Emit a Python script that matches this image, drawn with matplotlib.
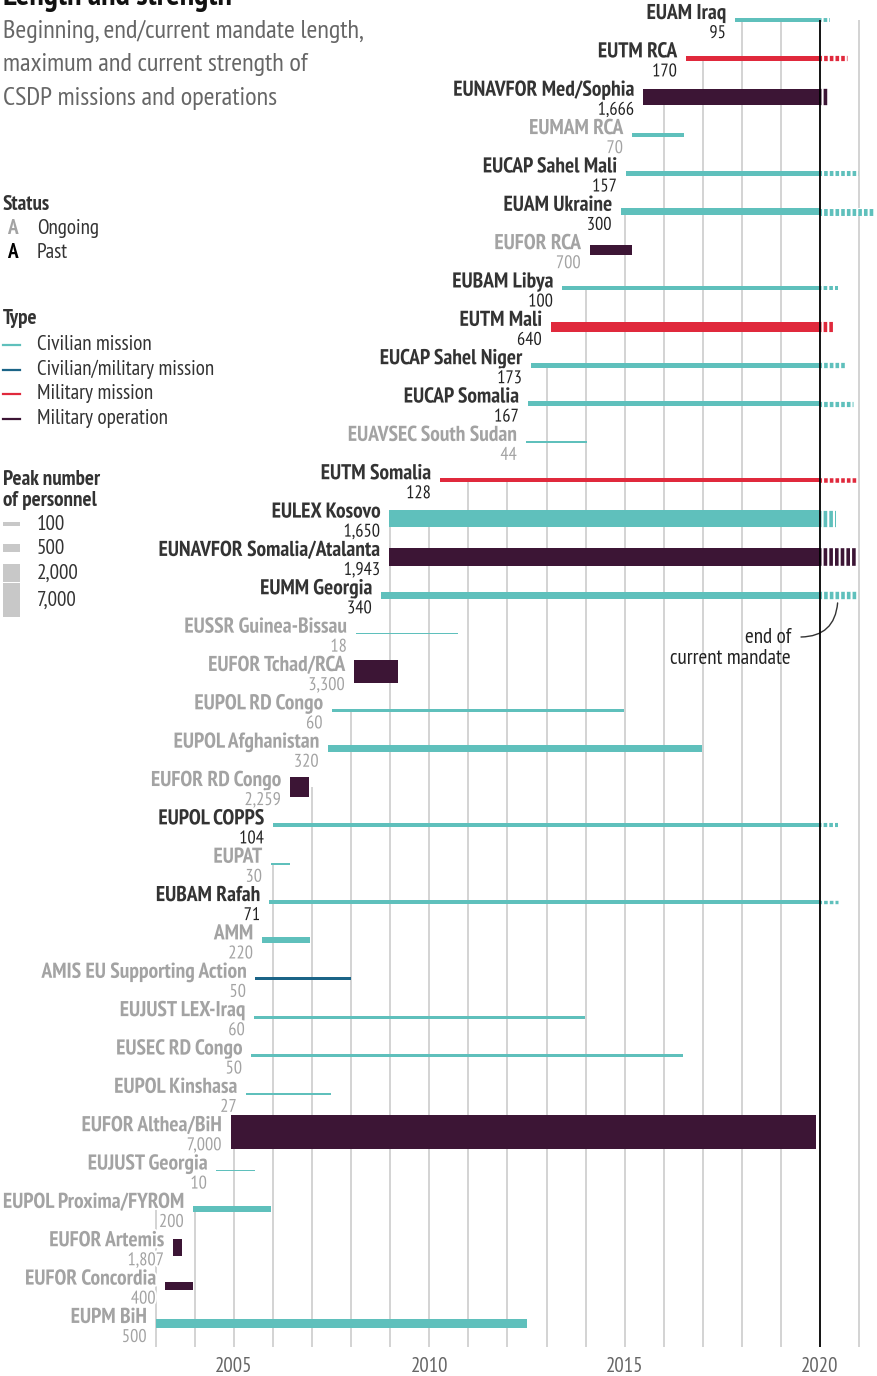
import numpy as np
import matplotlib
matplotlib.use("Agg")
import matplotlib.pyplot as plt
import matplotlib.patheffects as pe
from matplotlib import font_manager as fm
from matplotlib.lines import Line2D
from matplotlib.patches import Rectangle

# pick a narrow sans if one is there
available = {f.name for f in fm.fontManager.ttflist}
FONT = "DejaVu Sans"
for cand in ["PT Sans Narrow", "Roboto Condensed", "Liberation Sans Narrow"]:
    if cand in available:
        FONT = cand
        break
plt.rcParams["font.family"] = [FONT, "DejaVu Sans"]
plt.rcParams["lines.scale_dashes"] = False

# ---- data (top to bottom) ----
names = ["EUAM Iraq", "EUTM RCA", "EUNAVFOR Med/Sophia", "EUMAM RCA", "EUCAP Sahel Mali",
         "EUAM Ukraine", "EUFOR RCA", "EUBAM Libya", "EUTM Mali", "EUCAP Sahel Niger",
         "EUCAP Somalia", "EUAVSEC South Sudan", "EUTM Somalia", "EULEX Kosovo",
         "EUNAVFOR Somalia/Atalanta", "EUMM Georgia", "EUSSR Guinea-Bissau", "EUFOR Tchad/RCA",
         "EUPOL RD Congo", "EUPOL Afghanistan", "EUFOR RD Congo", "EUPOL COPPS", "EUPAT",
         "EUBAM Rafah", "AMM", "AMIS EU Supporting Action", "EUJUST LEX-Iraq", "EUSEC RD Congo",
         "EUPOL Kinshasa", "EUFOR Althea/BiH", "EUJUST Georgia", "EUPOL Proxima/FYROM",
         "EUFOR Artemis", "EUFOR Concordia", "EUPM BiH"]
personnel = [95, 170, 1666, 70, 157, 300, 700, 100, 640, 173, 167, 44, 128, 1650, 1943, 340,
             18, 3300, 60, 320, 2259, 104, 30, 71, 220, 50, 60, 50, 27, 7000, 10, 200, 1807,
             400, 500]
starts = [2017.82, 2016.57, 2015.47, 2015.19, 2015.03, 2014.90, 2014.11, 2013.40, 2013.11,
          2012.60, 2012.52, 2012.47, 2010.27, 2008.97, 2008.97, 2008.76, 2008.12, 2008.07,
          2007.50, 2007.40, 2006.43, 2006.00, 2005.95, 2005.90, 2005.72, 2005.54, 2005.51,
          2005.44, 2005.30, 2004.92, 2004.54, 2003.95, 2003.44, 2003.23, 2003.00]
ends = [2020.0, 2020.0, 2020.0, 2016.52, 2020.0, 2020.0, 2015.19, 2020.0, 2020.0, 2020.0,
        2020.0, 2014.03, 2020.0, 2020.0, 2020.0, 2020.0, 2010.73, 2009.20, 2014.98, 2016.98,
        2006.92, 2020.0, 2006.43, 2020.0, 2006.95, 2008.00, 2013.98, 2016.49, 2007.48,
        2019.90, 2005.54, 2005.95, 2003.67, 2003.95, 2012.50]
mandate_end = [2020.25, 2020.69, 2020.23, None, 2020.97, 2021.35, None, 2020.46, 2020.36,
               2020.66, 2020.84, None, 2020.95, 2020.41, 2020.95, 2020.95, None, None, None,
               None, None, 2020.46, None, 2020.46, None, None, None, None, None, None, None,
               None, None, None, None]
kinds = ["civ", "milmis", "milop", "civ", "civ", "civ", "milop", "civ", "milmis", "civ",
         "civ", "civ", "milmis", "civ", "milop", "civ", "civ", "milop", "civ", "civ", "milop",
         "civ", "civ", "civ", "civ", "civmil", "civ", "civ", "civ", "milop", "civ", "civ",
         "milop", "milop", "civ"]
ongoing = [True, True, True, False, True, True, False, True, True, True, True, False, True,
           True, True, True, False, False, False, False, False, True, False, True, False,
           False, False, False, False, False, False, False, False, False, False]

years = list(range(2003, 2022))
year_labels = [2005, 2010, 2015, 2020]
now = 2020.0

type_names = ["Civilian mission", "Civilian/military mission", "Military mission", "Military operation"]
type_keys = ["civ", "civmil", "milmis", "milop"]
legend_sizes = [100, 500, 2000, 7000]

colors = {"civ": "#5fc0bc", "civmil": "#1b6487", "milmis": "#e0293c", "milop": "#3c1535"}
DARK = "#333333"
GRAY = "#a3a3a3"
FS_NAME = 15.5
FS_NUM = 13.2
FS_TXT = 15.2

# ---- layout (pixels) ----
W, H = 878, 1376
PX_YR = 39.07          # pixels per year
X2005 = 234
ROW0, ROW_PX = 20, 38.35
def hpx(n):            # bar thickness in pixels, sqrt scale
    return max(0.4 * np.sqrt(n), 1.5)

fig = plt.figure(figsize=(W / 100, H / 100), dpi=100)
ax = fig.add_axes([0, 0, 1, 1])
ax.set_xlim(2005 - X2005 / PX_YR, 2005 + (W - X2005) / PX_YR)
ax.set_ylim((H - ROW0) / ROW_PX, -ROW0 / ROW_PX)
ax.axis("off")

def xd(px):
    return 2005 + (px - X2005) / PX_YR
def yd(py):
    return (py - ROW0) / ROW_PX

rows = np.arange(len(names))
bottom_row = yd(1347)

# grid lines, each starting at the first row that reaches that year
for yr in years:
    lim = yr + 1 if yr == years[0] else yr
    top = next(i for i, s in enumerate(starts) if s < lim)
    if yr == int(now):
        ax.vlines(yr, top, bottom_row, color="black", lw=1.3, zorder=4)
    else:
        ax.vlines(yr, top, bottom_row, color="#cccccc", lw=1.2, zorder=0)

halo = [pe.withStroke(linewidth=3, foreground="white")]

for i in rows:
    c = colors[kinds[i]]
    h = hpx(personnel[i]) / ROW_PX
    ax.barh(i, ends[i] - starts[i], left=starts[i], height=h, color=c, linewidth=0, zorder=2)
    if mandate_end[i] is not None:
        lw = hpx(personnel[i]) * 0.72
        ax.barh(i, mandate_end[i] - now, left=now, height=h, color="white", zorder=2)
        ax.hlines(i, now, mandate_end[i], color=c, lw=lw, zorder=3,
                  linestyles=[(1.5, (2.6, 1.5))])
    tc = DARK if ongoing[i] else GRAY
    ax.annotate(names[i], (starts[i], i), xytext=(-6.5, 0.7), textcoords="offset points",
                ha="right", va="baseline", fontsize=FS_NAME, fontweight="bold", color=tc,
                path_effects=halo, zorder=5)
    ax.annotate(f"{personnel[i]:,}", (starts[i], i), xytext=(-6.5, -13), textcoords="offset points",
                ha="right", va="baseline", fontsize=FS_NUM, color="#222222" if ongoing[i] else GRAY,
                path_effects=halo, zorder=5)

# year labels
for yr in year_labels:
    ax.text(yr, yd(1366), str(yr), ha="center", va="center", fontsize=15, color="#666666")

# end of current mandate note
g = names.index("EUMM Georgia")
ax.text(xd(791), yd(637), "end of", ha="right", va="center", fontsize=FS_TXT, color="#222222")
ax.text(xd(791), yd(658), "current mandate", ha="right", va="center", fontsize=FS_TXT,
        color="#222222")
ax.annotate("", xy=(mandate_end[g] - 0.5, g + 0.2), xytext=(xd(801), yd(637)),
            arrowprops=dict(arrowstyle="-", color="#333333", lw=1,
                            connectionstyle="arc3,rad=0.45", shrinkA=0, shrinkB=0))

# ---- titles and legend (figure pixels) ----
def fx(px):
    return px / W
def fy(py):
    return 1 - py / H

fig.text(fx(3), fy(5), "Length and strength", fontsize=23, fontweight="bold", color="#111111",
         va="baseline")
for k, line in enumerate(["Beginning, end/current mandate length,",
                          "maximum and current strength of",
                          "CSDP missions and operations"]):
    fig.text(fx(3), fy(31 + 34 * k), line, fontsize=19, color="#666666", va="center")

fig.text(fx(3), fy(204), "Status", fontsize=FS_TXT, fontweight="bold", color=DARK, va="center")
fig.text(fx(7), fy(228), "A", fontsize=FS_TXT, fontweight="bold", color=GRAY, va="center")
fig.text(fx(37), fy(228), "Ongoing", fontsize=FS_TXT, color=DARK, va="center")
fig.text(fx(7), fy(252), "A", fontsize=FS_TXT, fontweight="bold", color="black", va="center")
fig.text(fx(37), fy(252), "Past", fontsize=FS_TXT, color=DARK, va="center")

fig.text(fx(3), fy(318), "Type", fontsize=FS_TXT, fontweight="bold", color=DARK, va="center")
for k, (key, label) in enumerate(zip(type_keys, type_names)):
    yy = fy(345 + 24.5 * k)
    fig.add_artist(Line2D([fx(3), fx(20)], [yy, yy], color=colors[key], lw=1.6,
                          transform=fig.transFigure))
    fig.text(fx(37), yy, label, fontsize=FS_TXT, color=DARK, va="center")

fig.text(fx(3), fy(480), "Peak number", fontsize=FS_TXT, fontweight="bold", color=DARK, va="center")
fig.text(fx(3), fy(500), "of personnel", fontsize=FS_TXT, fontweight="bold", color=DARK, va="center")
size_centers = [524, 548, 573, 600]
for n, cy in zip(legend_sizes, size_centers):
    hh = hpx(n)
    fig.add_artist(Rectangle((fx(3), fy(cy + hh / 2)), fx(20) - fx(3), hh / H,
                             color="#c8c8c8", lw=0, transform=fig.transFigure))
    fig.text(fx(37), fy(cy), f"{n:,}", fontsize=FS_TXT, color=DARK, va="center")

fig.savefig("out.png", dpi=100)
